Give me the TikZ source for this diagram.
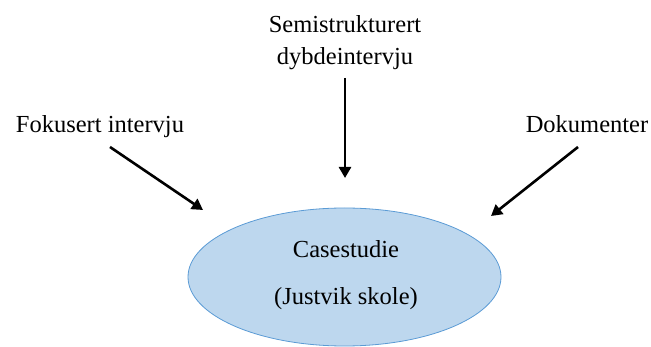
\documentclass[tikz,border=0pt]{standalone}
\usepackage{fontspec}
\setmainfont{Liberation Serif}
\usetikzlibrary{arrows.meta}
\definecolor{casefill}{HTML}{BDD7EE}
\definecolor{caseline}{HTML}{5B9BD5}
\begin{document}
\begin{tikzpicture}[x=1pt,y=-1pt,
  lbl/.style={anchor=base,inner sep=0pt,font=\fontsize{24.5}{29}\selectfont},
  feed/.style={line width=2.6pt,-{Triangle[length=11pt,width=12pt]}}]
\useasboundingbox (0,0) rectangle (651,347);
% case ellipse
\draw[caseline,fill=casefill,line width=0.8pt] (344.5,277) ellipse [x radius=156.5,y radius=69];
\node[lbl] (case) at (346,258) {Casestudie};
\node[lbl] (school) at (346,305) {(Justvik skole)};
% sources
\node[lbl] (semi) at (345,33) {Semistrukturert};
\node[lbl] (dyb) at (345,65) {dybdeintervju};
\node[lbl] (fok) at (100,133) {Fokusert intervju};
\node[lbl] (dok) at (587,133) {Dokumenter};
% connector ends
\coordinate (s1) at (110,147);
\coordinate (e1) at (203,210);
\coordinate (s2) at (345,78);
\coordinate (e2) at (345,178);
\coordinate (s3) at (578,147);
\coordinate (e3) at (491,216);
\draw[feed] (s1) -- (e1);
\draw[feed] (s2) -- (e2);
\draw[feed] (s3) -- (e3);
\end{tikzpicture}
\end{document}
